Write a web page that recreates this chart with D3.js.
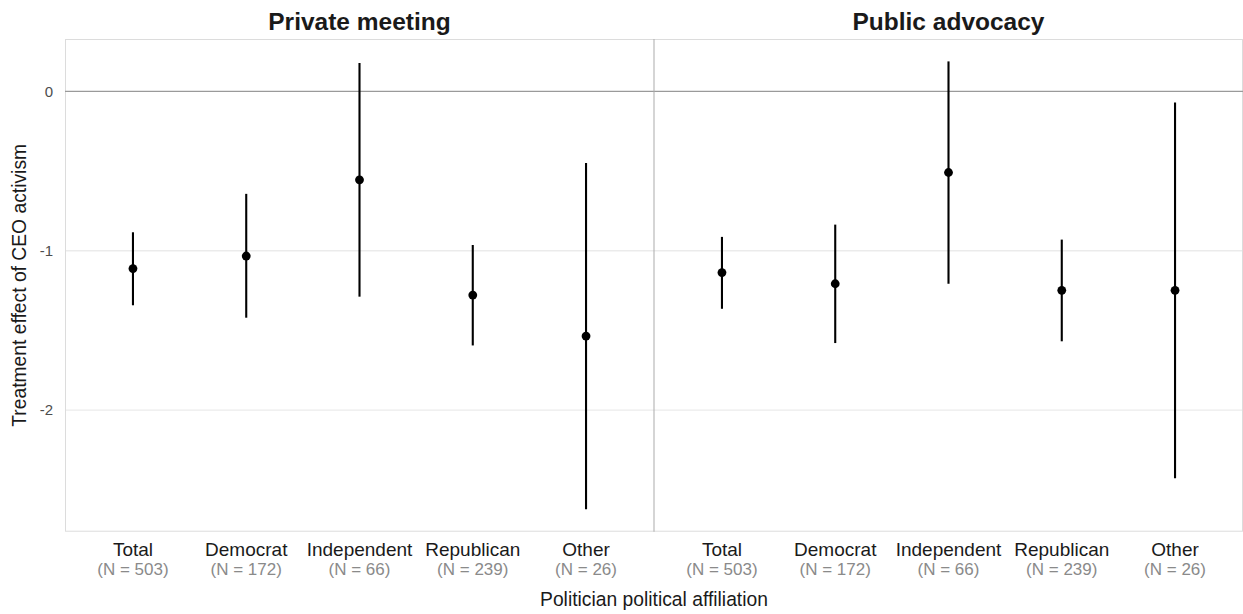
<!DOCTYPE html>
<html>
<head>
<meta charset="utf-8">
<script src="https://cdn.jsdelivr.net/npm/d3@7"></script>
<style>
  html, body { margin: 0; padding: 0; background: #fff; }
  svg { display: block; font-family: "Liberation Sans", Arial, Helvetica, sans-serif; }
</style>
</head>
<body>
<svg id="chart" width="1243" height="614"></svg>
<script>
// Facets, categories and sample sizes
const panels = ["Private meeting", "Public advocacy"];
const categories = ["Total", "Democrat", "Independent", "Republican", "Other"];
const sampleSizes = [503, 172, 66, 239, 26];

// Point estimates and 95% interval bounds, one array per facet
const privateEstimate = [-1.112, -1.033, -0.555, -1.278, -1.535];
const privateLower    = [-1.342, -1.420, -1.288, -1.594, -2.622];
const privateUpper    = [-0.884, -0.643,  0.178, -0.964, -0.450];

const publicEstimate  = [-1.137, -1.207, -0.509, -1.248, -1.248];
const publicLower     = [-1.364, -1.579, -1.207, -1.568, -2.427];
const publicUpper     = [-0.913, -0.836,  0.188, -0.930, -0.070];

const yTicks = [0, -1, -2];

const estimates = [privateEstimate, publicEstimate];
const lowers = [privateLower, publicLower];
const uppers = [privateUpper, publicUpper];

const svg = d3.select("#chart");
const plotLeft = 65, plotRight = 1243, plotTop = 39, plotBottom = 531.7;
const panelW = (plotRight - plotLeft) / panels.length;

// Shared y scale with 5% expansion around the data
const allVals = [...privateLower, ...privateUpper, ...publicLower, ...publicUpper];
const lo = d3.min(allVals), hi = d3.max(allVals);
const pad = (hi - lo) * 0.05;
const y = d3.scaleLinear().domain([lo - pad, hi + pad]).range([plotBottom, plotTop]);

// Horizontal gridlines
svg.append("g").selectAll("line").data(yTicks.filter(t => t !== 0)).join("line")
  .attr("x1", plotLeft).attr("x2", plotRight)
  .attr("y1", d => y(d)).attr("y2", d => y(d))
  .attr("stroke", "#ebebeb").attr("stroke-width", 1.4);

// Outer border
svg.append("rect")
  .attr("x", plotLeft + 0.5).attr("y", plotTop + 0.5)
  .attr("width", plotRight - plotLeft - 1).attr("height", plotBottom - plotTop - 1)
  .attr("fill", "none").attr("stroke", "#dcdcdc").attr("stroke-width", 1);

// Reference line at zero
svg.append("line")
  .attr("x1", plotLeft).attr("x2", plotRight)
  .attr("y1", y(0)).attr("y2", y(0))
  .attr("stroke", "#9a9a9a").attr("stroke-width", 1.2);

// Divider between facets
svg.append("line")
  .attr("x1", plotLeft + panelW).attr("x2", plotLeft + panelW)
  .attr("y1", plotTop).attr("y2", plotBottom)
  .attr("stroke", "#ababab").attr("stroke-width", 1);

// Y axis
const yAxis = d3.axisLeft(y).tickValues(yTicks).tickSize(0).tickPadding(12)
  .tickFormat(d => String(d).replace("\u2212", "-"));
const yg = svg.append("g").attr("transform", `translate(${plotLeft},0)`).call(yAxis);
yg.select(".domain").remove();
yg.selectAll("text").attr("font-size", 15).attr("fill", "#4d4d4d")
  .attr("font-family", "Liberation Sans, Arial, sans-serif");

svg.append("text")
  .attr("transform", `translate(26,${(plotTop + plotBottom) / 2}) rotate(-90)`)
  .attr("text-anchor", "middle").attr("font-size", 19.3).attr("fill", "#1a1a1a")
  .text("Treatment effect of CEO activism");

panels.forEach((name, p) => {
  const x0 = plotLeft + p * panelW;
  const x = d3.scalePoint().domain(categories).range([x0, x0 + panelW]).padding(0.6);

  // Facet title
  svg.append("text")
    .attr("x", x0 + panelW / 2).attr("y", 30)
    .attr("text-anchor", "middle").attr("font-size", 24.5).attr("font-weight", "bold")
    .attr("fill", "#1a1a1a").text(name);

  const rows = categories.map((c, i) => ({
    c, n: sampleSizes[i], est: estimates[p][i], lo: lowers[p][i], hi: uppers[p][i]
  }));

  const g = svg.append("g");
  g.selectAll("line.ci").data(rows).join("line").attr("class", "ci")
    .attr("x1", d => x(d.c)).attr("x2", d => x(d.c))
    .attr("y1", d => y(d.lo)).attr("y2", d => y(d.hi))
    .attr("stroke", "#000").attr("stroke-width", 2.1);
  g.selectAll("circle").data(rows).join("circle")
    .attr("cx", d => x(d.c)).attr("cy", d => y(d.est)).attr("r", 4.4)
    .attr("fill", "#000");

  // Category labels with sample sizes
  const lab = svg.append("g").selectAll("g").data(rows).join("g")
    .attr("transform", d => `translate(${x(d.c)},0)`);
  lab.append("text").attr("y", 556).attr("text-anchor", "middle")
    .attr("font-size", 19).attr("fill", "#1a1a1a").text(d => d.c);
  lab.append("text").attr("y", 575).attr("text-anchor", "middle")
    .attr("font-size", 17).attr("fill", "#8a8a8a").text(d => `(N = ${d.n})`);
});

svg.append("text")
  .attr("x", (plotLeft + plotRight) / 2).attr("y", 606)
  .attr("text-anchor", "middle").attr("font-size", 19.3).attr("fill", "#1a1a1a")
  .text("Politician political affiliation");
</script>
</body>
</html>
